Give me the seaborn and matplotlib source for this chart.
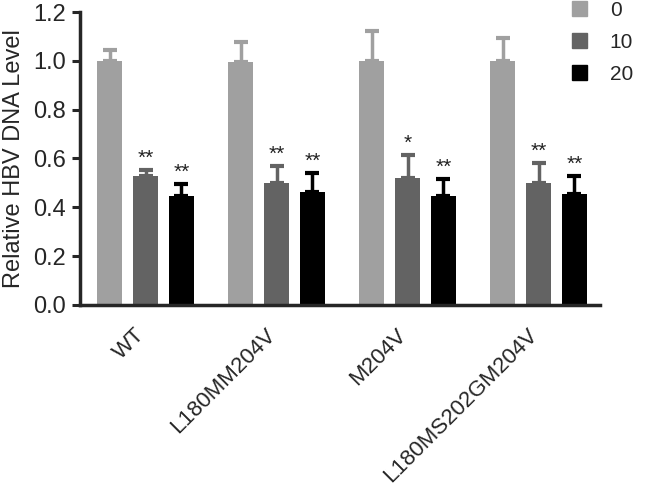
import matplotlib
matplotlib.use("Agg")
import matplotlib.pyplot as plt
import matplotlib.transforms as mtransforms
import seaborn as sns
import pandas as pd
import numpy as np
from matplotlib.patches import Patch

groups = ["WT", "L180MM204V", "M204V", "L180MS202GM204V"]
doses = ["0", "10", "20"]
means_0 = [1.00, 0.995, 1.00, 1.00]
means_10 = [0.527, 0.50, 0.521, 0.50]
means_20 = [0.448, 0.463, 0.448, 0.456]
err_0 = [0.045, 0.081, 0.122, 0.093]
err_10 = [0.027, 0.071, 0.095, 0.082]
err_20 = [0.049, 0.077, 0.069, 0.074]
stars_10 = ["**", "**", "*", "**"]
stars_20 = ["**", "**", "**", "**"]
colors = ["#a0a0a0", "#636363", "#000000"]

rows = []
for i, g in enumerate(groups):
    for d, m, e, s in zip(doses, [means_0, means_10, means_20], [err_0, err_10, err_20],
                          [None, stars_10, stars_20]):
        rows.append(dict(group=g, dose=d, value=m[i], err=e[i], star=(s[i] if s else "")))
df = pd.DataFrame(rows)

sns.set_style("ticks")
plt.rcParams['font.family'] = ['Liberation Sans', 'DejaVu Sans']

fig = plt.figure(figsize=(6.46, 5.03), dpi=100)
ax = fig.add_axes([0.124, 0.394, 0.805, 0.582])

sns.barplot(data=df, x="group", y="value", hue="dose", order=groups, hue_order=doses,
            palette=colors, width=0.82, gap=0.3, errorbar=None, ax=ax, legend=False,
            saturation=1, linewidth=0)

for j, d in enumerate(doses):
    cont = ax.containers[j]
    sub = df[df.dose == d].set_index("group").loc[groups]
    for bar, (_, r) in zip(cont, sub.iterrows()):
        xc = bar.get_x() + bar.get_width() / 2
        ax.errorbar([xc], [r.value], yerr=[[0], [r.err]], fmt="none",
                    ecolor=colors[j], elinewidth=2.5, capsize=5, capthick=3, zorder=1)
        bar.set_zorder(2)
        if r.star:
            ax.text(xc, r.value + r.err + 0.008, r.star, ha="center", va="bottom",
                    fontsize=15, color="#222222")

ax.set_ylim(0, 1.2)
ax.set_xlim(-0.5, 3.47)
ax.set_yticks(np.arange(0, 1.21, 0.2))
ax.set_yticklabels([f"{v:.1f}" for v in np.arange(0, 1.21, 0.2)], fontsize=17)
ax.set_ylabel("Relative HBV DNA Level", fontsize=17, labelpad=6)
ax.set_xlabel("")
ax.set_xticks(range(len(groups)))
ax.set_xticklabels(groups, rotation=45, ha="right", rotation_mode="anchor", fontsize=16)
ax.tick_params(axis="x", length=0, pad=14)
ax.tick_params(axis="y", width=2.2, length=6, direction="out", pad=4)
offset = mtransforms.ScaledTranslation(-12 / 100, 0, fig.dpi_scale_trans)
for lab in ax.get_xticklabels():
    lab.set_transform(lab.get_transform() + offset)
for s in ["left", "bottom"]:
    ax.spines[s].set_linewidth(2.5)
sns.despine(ax=ax)

handles = [Patch(facecolor=c, edgecolor=c) for c in colors]
fig.legend(handles, doses, loc="upper left", bbox_to_anchor=(0.885, 0.998),
           frameon=False, fontsize=15, handlelength=0.72, handleheight=0.72,
           labelspacing=0.62, handletextpad=1.1, borderpad=0, borderaxespad=0)

fig.savefig("out.png", dpi=100)
